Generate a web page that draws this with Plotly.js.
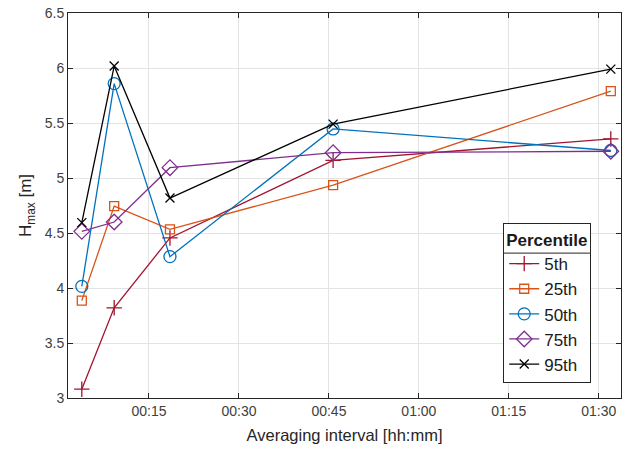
<!DOCTYPE html>
<html>
<head>
<meta charset="utf-8">
<script src="https://cdn.plot.ly/plotly-3.0.1.min.js"></script>
<style>html,body{margin:0;padding:0;background:#fff;}#chart{width:622px;height:455px;}</style>
</head>
<body>
<div id="chart"></div>
<script>
// Averaging interval in minutes
const intervals = [3.8, 9.2, 18.5, 45.7, 92.0];
const p5  = [3.08, 3.82, 4.455, 5.16, 5.355];
const p25 = [3.885, 4.745, 4.533, 4.935, 5.79];
const p50 = [4.015, 5.858, 4.285, 5.446, 5.25];
const p75 = [4.515, 4.60, 5.094, 5.23, 5.243];
const p95 = [4.594, 6.018, 4.818, 5.49, 5.99];
const seriesNames = ['5th', '25th', '50th', '75th', '95th'];
const tickVals = [15, 30, 45, 60, 75, 90];
const tickText = ['00:15', '00:30', '00:45', '01:00', '01:15', '01:30'];

const colors = ['#A2142F', '#D95319', '#0072BD', '#7E2F8E', '#000000'];
const symbols = ['cross-thin-open', 'square-open', 'circle-open', 'diamond-open', 'x-thin-open'];
const sizes = [11, 9, 12, 12, 9];
const allData = [p5, p25, p50, p75, p95];

const traces = allData.map((vals, i) => ({
  x: intervals,
  y: vals,
  name: seriesNames[i],
  legendgroup: 'g' + i,
  type: 'scatter',
  mode: 'lines+markers',
  line: {color: colors[i], width: 1.3},
  marker: {symbol: symbols[i], size: sizes[i], color: colors[i], line: {color: colors[i], width: 1.3}}
}));

const fam = 'Liberation Sans, Arial, sans-serif';

const layout = {
  width: 622, height: 455,
  margin: {l: 68, r: 1, t: 13, b: 57},
  paper_bgcolor: '#ffffff', plot_bgcolor: '#ffffff',
  font: {family: fam, color: '#262626'},
  showlegend: true,
  xaxis: {
    range: [1.5, 93.7],
    tickvals: tickVals, ticktext: tickText,
    showgrid: true, gridcolor: '#e3e3e3', gridwidth: 1,
    zeroline: false,
    showline: true, linecolor: '#262626', linewidth: 1, mirror: 'ticks',
    ticks: 'inside', ticklen: 5, tickcolor: '#262626',
    tickfont: {size: 14, color: '#404040', family: fam},
    title: {text: 'Averaging interval [hh:mm]', font: {size: 16.5, color: '#262626', family: fam}, standoff: 11}
  },
  yaxis: {
    range: [3, 6.5],
    dtick: 0.5, tick0: 3,
    showgrid: true, gridcolor: '#e3e3e3', gridwidth: 1,
    zeroline: false,
    showline: true, linecolor: '#262626', linewidth: 1, mirror: 'ticks',
    ticks: 'inside', ticklen: 5, tickcolor: '#262626',
    tickfont: {size: 14, color: '#404040', family: fam},
    title: {text: 'H<sub>max</sub> [m]', font: {size: 17, color: '#262626', family: fam}, standoff: 8}
  },
  legend: {
    x: 0.787, y: 0.4545, xanchor: 'left', yanchor: 'top',
    bgcolor: 'rgba(0,0,0,0)', bordercolor: '#262626', borderwidth: 1,
    font: {size: 17, color: '#1a1a1a', family: fam},
    title: {text: '<b>Percentile</b>', font: {size: 17, color: '#1a1a1a', family: fam}, side: 'top'},
    tracegroupgap: 0,
    itemwidth: 30
  }
};

Plotly.newPlot('chart', traces, layout, {displayModeBar: false, staticPlot: true}).then(gd => {
  const bg = gd.querySelector('.legend .bg');
  const title = gd.querySelector('.legend .legendtitletext');
  if (!bg) return;
  const r = bg.getBoundingClientRect();
  const c = gd.getBoundingClientRect();
  const fs = gd._fullLayout._size;
  const toPx = (px) => (px - c.left - fs.l) / fs.w;
  const toPy = (py) => 1 - (py - c.top - fs.t) / fs.h;
  let sepY = r.top + 29;
  if (title) {
    const tr = title.getBoundingClientRect();
    sepY = tr.bottom + 3;
  }
  Plotly.relayout(gd, {shapes: [
    {type: 'rect', xref: 'paper', yref: 'paper', layer: 'above',
     x0: toPx(r.left), x1: toPx(r.right), y0: toPy(r.bottom), y1: toPy(r.top),
     fillcolor: '#ffffff', line: {width: 0}},
    {type: 'line', xref: 'paper', yref: 'paper', layer: 'above',
     x0: toPx(r.left), x1: toPx(r.right), y0: toPy(sepY), y1: toPy(sepY),
     line: {color: '#262626', width: 1}}
  ]});
});
</script>
</body>
</html>
